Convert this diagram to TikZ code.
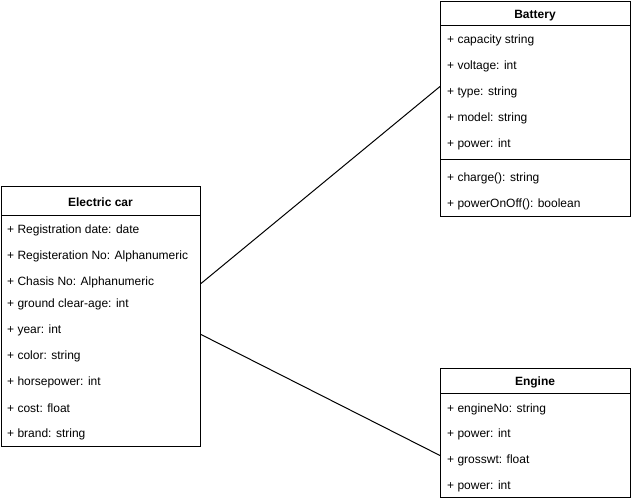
\documentclass[tikz,border=0pt]{standalone}
\usepackage{fontspec}
\setmainfont{Liberation Sans}
\begin{document}
\begin{tikzpicture}[x=1pt,y=-1pt,
  classbox/.style={draw=black,line width=1pt,fill=white,rectangle,inner sep=0pt,anchor=north west},
  classtitle/.style={font=\fontsize{12}{14}\selectfont\bfseries,inner sep=0pt,anchor=center,yshift=-1.5pt},
  attr/.style={font=\fontsize{12}{14}\selectfont,inner sep=0pt,anchor=west,yshift=-1.5pt},
  divider/.style={line width=1pt},
  assoc/.style={line width=1pt}]
\useasboundingbox (0,0) rectangle (631,502);

% Electric car class
\node[classbox,minimum width=199pt,minimum height=260pt] (car) at (1,186) {};
\draw[divider] (1,215.5) -- (200,215.5);
\node[classtitle] (carT) at (100.5,201) {Electric car};
\node[attr] (c1) at (7,229) {+ Registration date: date};
\node[attr] (c2) at (7,255) {+ Registeration No: Alphanumeric};
\node[attr] (c3) at (7,281) {+ Chasis No: Alphanumeric};
\node[attr] (c4) at (7,303) {+ ground clear-age: int};
\node[attr] (c5) at (7,329) {+ year: int};
\node[attr] (c6) at (7,355) {+ color: string};
\node[attr] (c7) at (7,381) {+ horsepower: int};
\node[attr] (c8) at (7,407) {+ cost: float};
\node[attr] (c9) at (7,433) {+ brand: string};

% Battery class
\node[classbox,minimum width=190pt,minimum height=215pt] (bat) at (440,1) {};
\draw[divider] (440,26) -- (630,26);
\draw[divider] (440,160) -- (630,160);
\node[classtitle] (batT) at (535,14) {Battery};
\node[attr] (b1) at (447,39) {+ capacity string};
\node[attr] (b2) at (447,65) {+ voltage: int};
\node[attr] (b3) at (447,91) {+ type: string};
\node[attr] (b4) at (447,117) {+ model: string};
\node[attr] (b5) at (447,143) {+ power: int};
\node[attr] (b6) at (447,177) {+ charge(): string};
\node[attr] (b7) at (447,203) {+ powerOnOff(): boolean};

% Engine class
\node[classbox,minimum width=190pt,minimum height=129pt] (eng) at (440,368) {};
\draw[divider] (440,393.5) -- (630,393.5);
\node[classtitle] (engT) at (535,381) {Engine};
\node[attr] (e1) at (447,408) {+ engineNo: string};
\node[attr] (e2) at (447,433) {+ power: int};
\node[attr] (e3) at (447,459) {+ grosswt: float};
\node[attr] (e4) at (447,485) {+ power: int};

% Associations
\draw[assoc] ([yshift=33pt]car.east) -- ([yshift=22.5pt]bat.west);
\draw[assoc] ([yshift=-18pt]car.east) -- ([yshift=-22.5pt]eng.west);
\end{tikzpicture}
\end{document}
